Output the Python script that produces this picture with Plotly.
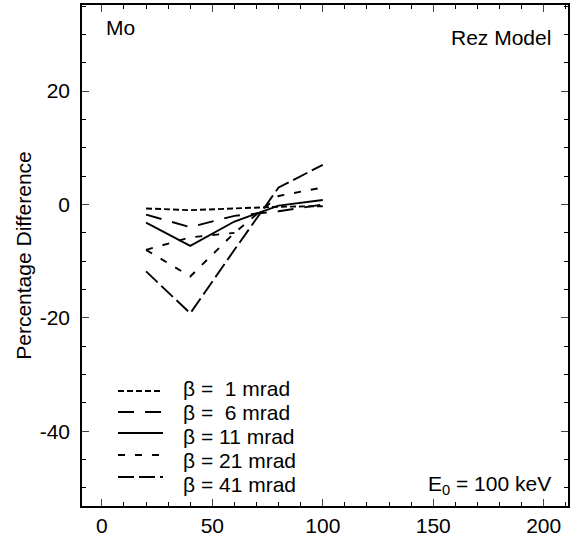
import plotly.graph_objects as go

energies = [20, 40, 60, 80, 100]
b1 = [-0.7, -1.0, -0.7, -0.4, -0.3]
b6 = [-1.8, -4.0, -2.0, -1.2, 0.0]
b11 = [-3.2, -7.3, -3.0, -0.2, 0.8]
b21 = [-8.0, -12.7, -5.0, 1.5, 3.0]
b41 = [-11.8, -19.2, -8.0, 3.0, 7.0]
extra_x = [20, 40, 60]
extra_y = [-8.0, -5.8, -5.0]

labels = ["β =  1 mrad", "β =  6 mrad", "β = 11 mrad", "β = 21 mrad", "β = 41 mrad"]
series = [b1, b6, b11, b21, b41]
dashes = ["6px,3px", "16px,11px", "solid", "7px,10px", "16px,5px"]

xticks = [0, 50, 100, 150, 200]
yticks = [-40, -20, 0, 20]
yticktext = ["-40", "-20", "0", "20"]

# layout geometry (pixels)
W, H = 579, 543
L, R, T, B = 82, 11, 5, 37
PW, PH = W - L - R, H - T - B


def px(x):
    return (x - L) / PW


def py(y):
    return (H - B - y) / PH


font = "Liberation Sans, Arial, Helvetica, sans-serif"
FS = 21

fig = go.Figure()
for lab, ys, d in zip(labels, series, dashes):
    fig.add_trace(go.Scatter(x=energies, y=ys, mode="lines", name=lab, showlegend=False,
                             line=dict(color="black", width=1.9, dash=d)))
fig.add_trace(go.Scatter(x=extra_x, y=extra_y, mode="lines", showlegend=False,
                         line=dict(color="black", width=1.9, dash=dashes[3])))

# legend drawn as shapes + annotations
sample_y = [391, 412, 433, 455, 477]
text_y = [388, 412, 436, 460, 484]
shapes = []
annotations = []
for lab, d, sy, ty in zip(labels, dashes, sample_y, text_y):
    shapes.append(dict(type="line", xref="paper", yref="paper",
                       x0=px(118), x1=px(163), y0=py(sy), y1=py(sy),
                       line=dict(color="black", width=1.9, dash=d)))
    annotations.append(dict(text=lab, x=px(181), y=py(ty), xref="paper", yref="paper",
                            xanchor="left", yanchor="middle", showarrow=False,
                            font=dict(size=FS)))

annotations += [
    dict(text="Mo", x=px(104), y=py(28), xref="paper", yref="paper",
         xanchor="left", yanchor="middle", showarrow=False, font=dict(size=FS)),
    dict(text="Rez Model", x=px(553), y=py(38), xref="paper", yref="paper",
         xanchor="right", yanchor="middle", showarrow=False, font=dict(size=FS)),
    dict(text="E<sub>0</sub> = 100 keV", x=px(553), y=py(485), xref="paper", yref="paper",
         xanchor="right", yanchor="middle", showarrow=False, font=dict(size=FS)),
]

fig.update_layout(
    width=W, height=H,
    margin=dict(l=L, r=R, t=T, b=B),
    paper_bgcolor="white", plot_bgcolor="white",
    font=dict(family=font, size=FS, color="black"),
    showlegend=False,
    shapes=shapes,
    annotations=annotations,
    xaxis=dict(range=[-9, 211], tickvals=xticks, ticks="inside", ticklen=7, tickwidth=1.3,
               showline=True, linecolor="black", linewidth=1.5, mirror="allticks",
               showgrid=False, zeroline=False, tickfont=dict(size=FS),
               ticklabelstandoff=0, automargin=False,
               minor=dict(dtick=10, ticks="inside", ticklen=4, tickcolor="black")),
    yaxis=dict(range=[-53.2, 35.2], tickvals=yticks, ticktext=yticktext, ticks="inside",
               ticklen=7, tickwidth=1.3,
               showline=True, linecolor="black", linewidth=1.5, mirror="allticks",
               showgrid=False, zeroline=False, tickfont=dict(size=FS),
               ticklabelstandoff=6, automargin=False,
               title=dict(text="Percentage Difference", font=dict(size=FS), standoff=2),
               minor=dict(dtick=5, ticks="inside", ticklen=4, tickcolor="black")),
)
fig.write_html("out.html", config={"displayModeBar": False},
               post_script="document.body.style.margin='0px';")
